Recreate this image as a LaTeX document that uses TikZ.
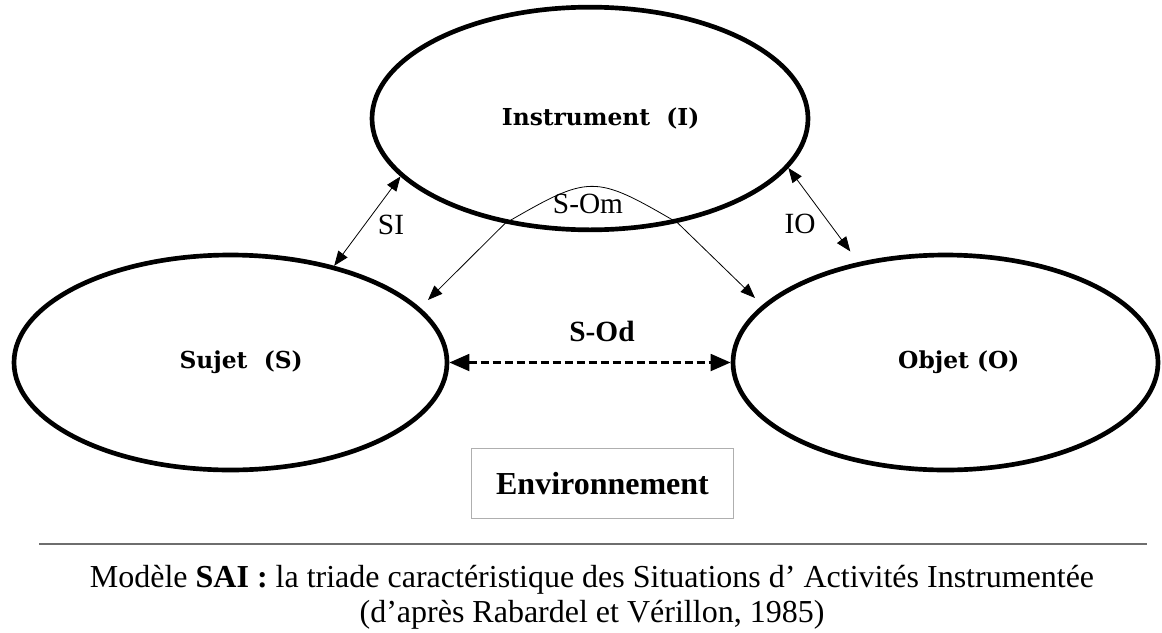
\documentclass[tikz,border=0pt]{standalone}
\usepackage{fontspec}
\setmainfont{Liberation Serif}
\newfontfamily\slabfont{DejaVu Serif}
\usetikzlibrary{shapes.geometric,arrows.meta}

\begin{document}
\begin{tikzpicture}[x=0.75pt,y=0.75pt,yscale=-1,xscale=1,
  pole/.style={ellipse,draw,line width=3.5pt,inner sep=0pt,font=\slabfont\bfseries\fontsize{17.5}{20}\selectfont},
  link/.style={line width=0.6pt,{Triangle[length=11pt,width=8.5pt]}-{Triangle[length=11pt,width=8.5pt]}},
  lbl/.style={inner sep=0.75pt,font=\fontsize{22}{26}\selectfont}]
\useasboundingbox (0,0) rectangle (1162,632);

%Shape: Ellipse
\node (instr) [pole,minimum width=327pt,minimum height=167pt] at (590,118.5) {\hspace*{16pt}Instrument\ \ (I)};
%Shape: Ellipse
\node (sujet) [pole,minimum width=324.75pt,minimum height=161.25pt] at (230.5,362.5) {\hspace*{16pt}Sujet\ \ (S)};
%Shape: Ellipse
\node (objet) [pole,minimum width=318.75pt,minimum height=161.25pt] at (945.5,362.5) {\hspace*{20pt}Objet (O)};

%Free ends of the S-Om curve
\coordinate (om-l) at (428,300);
\coordinate (om-r) at (755,298);

%Straight Lines
\draw [link] (instr.197) -- (sujet.43);
%Straight Lines
\draw [link,shorten >=10pt] (instr.346) -- (objet.131);
%Curve Lines
\draw [link] (om-l) -- (instr.231) .. controls +(85,-49) and +(-84,-49) .. (instr.310) -- (om-r);
%Straight Lines
\draw [line width=2.2pt,dash pattern=on 6pt off 3pt,{Triangle[length=15pt,width=12.5pt]}-{Triangle[length=15pt,width=12.5pt]}] (sujet.east) -- (objet.west);

% Text Node
\node (si) [lbl] at (391,225) {SI};
% Text Node
\node (io) [lbl] at (800,224) {IO};
% Text Node
\node (som) [lbl] at (588,204) {S-Om};
% Text Node
\node (sod) [lbl,font=\bfseries\fontsize{22}{26}\selectfont] at (602,331) {S-Od};

% Text Node
\node (env) [draw={rgb,255:red,175;green,175;blue,175},line width=0.8pt,minimum width=197pt,minimum height=53pt,font=\bfseries\fontsize{24}{28}\selectfont] at (602.5,483.5) {Environnement};

%Straight Lines
\draw [color={rgb,255:red,110;green,110;blue,110},line width=1.5pt] (39,544) -- (1147,544);

% Text Node
\node (cap) [align=center,inner sep=0pt,font=\fontsize{24}{26.25}\selectfont] at (592,597.5) {Modèle \textbf{SAI :} la triade caractéristique des Situations d’ Activités Instrumentée\\(d’après Rabardel et Vérillon, 1985)};

\end{tikzpicture}
\end{document}
